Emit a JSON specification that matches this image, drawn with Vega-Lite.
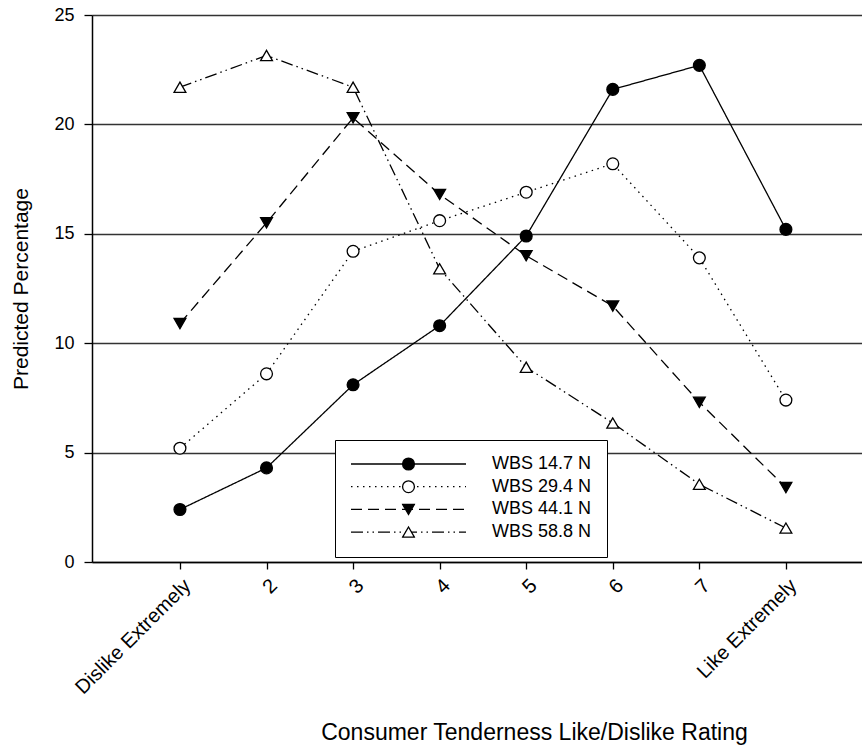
{
  "$schema": "https://vega.github.io/schema/vega-lite/v6.json",
  "width": 770,
  "height": 547,
  "autosize": "none",
  "padding": {"left": 92, "top": 15, "right": 0, "bottom": 188},
  "background": "white",
  "config": {
    "view": {"stroke": null},
    "font": "Liberation Sans",
    "axis": {"labelColor": "black", "titleColor": "black", "domainColor": "black", "tickColor": "black", "titleFontWeight": "normal", "labelFont": "Liberation Sans", "titleFont": "Liberation Sans"},
    "legend": {"labelFont": "Liberation Sans", "labelColor": "black"}
  },
  "data": {
    "values": [
      {"rating": 1, "series": "WBS 14.7 N", "wbs": "14.7", "pct": 2.4},
      {"rating": 2, "series": "WBS 14.7 N", "wbs": "14.7", "pct": 4.3},
      {"rating": 3, "series": "WBS 14.7 N", "wbs": "14.7", "pct": 8.1},
      {"rating": 4, "series": "WBS 14.7 N", "wbs": "14.7", "pct": 10.8},
      {"rating": 5, "series": "WBS 14.7 N", "wbs": "14.7", "pct": 14.9},
      {"rating": 6, "series": "WBS 14.7 N", "wbs": "14.7", "pct": 21.6},
      {"rating": 7, "series": "WBS 14.7 N", "wbs": "14.7", "pct": 22.7},
      {"rating": 8, "series": "WBS 14.7 N", "wbs": "14.7", "pct": 15.2},
      {"rating": 1, "series": "WBS 29.4 N", "wbs": "29.4", "pct": 5.2},
      {"rating": 2, "series": "WBS 29.4 N", "wbs": "29.4", "pct": 8.6},
      {"rating": 3, "series": "WBS 29.4 N", "wbs": "29.4", "pct": 14.2},
      {"rating": 4, "series": "WBS 29.4 N", "wbs": "29.4", "pct": 15.6},
      {"rating": 5, "series": "WBS 29.4 N", "wbs": "29.4", "pct": 16.9},
      {"rating": 6, "series": "WBS 29.4 N", "wbs": "29.4", "pct": 18.2},
      {"rating": 7, "series": "WBS 29.4 N", "wbs": "29.4", "pct": 13.9},
      {"rating": 8, "series": "WBS 29.4 N", "wbs": "29.4", "pct": 7.4},
      {"rating": 1, "series": "WBS 44.1 N", "wbs": "44.1", "pct": 10.9},
      {"rating": 2, "series": "WBS 44.1 N", "wbs": "44.1", "pct": 15.5},
      {"rating": 3, "series": "WBS 44.1 N", "wbs": "44.1", "pct": 20.3},
      {"rating": 4, "series": "WBS 44.1 N", "wbs": "44.1", "pct": 16.8},
      {"rating": 5, "series": "WBS 44.1 N", "wbs": "44.1", "pct": 14.0},
      {"rating": 6, "series": "WBS 44.1 N", "wbs": "44.1", "pct": 11.7},
      {"rating": 7, "series": "WBS 44.1 N", "wbs": "44.1", "pct": 7.3},
      {"rating": 8, "series": "WBS 44.1 N", "wbs": "44.1", "pct": 3.4},
      {"rating": 1, "series": "WBS 58.8 N", "wbs": "58.8", "pct": 21.7},
      {"rating": 2, "series": "WBS 58.8 N", "wbs": "58.8", "pct": 23.15},
      {"rating": 3, "series": "WBS 58.8 N", "wbs": "58.8", "pct": 21.7},
      {"rating": 4, "series": "WBS 58.8 N", "wbs": "58.8", "pct": 13.4},
      {"rating": 5, "series": "WBS 58.8 N", "wbs": "58.8", "pct": 8.9},
      {"rating": 6, "series": "WBS 58.8 N", "wbs": "58.8", "pct": 6.35},
      {"rating": 7, "series": "WBS 58.8 N", "wbs": "58.8", "pct": 3.55},
      {"rating": 8, "series": "WBS 58.8 N", "wbs": "58.8", "pct": 1.55}
    ]
  },
  "encoding": {
    "x": {
      "field": "rating", "type": "quantitative",
      "scale": {"domain": [-0.016, 8.879], "nice": false, "zero": false},
      "axis": {
        "values": [1, 2, 3, 4, 5, 6, 7, 8],
        "labelExpr": "datum.value == 1 ? 'Dislike Extremely' : datum.value == 8 ? 'Like Extremely' : datum.label",
        "labelAngle": -45, "labelFontSize": 20, "labelPadding": 6, "tickSize": 7, "tickWidth": 1.3,
        "domainWidth": 1.5, "grid": false, "labelFlush": false, "labelOverlap": false, "labelLimit": 0,
        "title": "Consumer Tenderness Like/Dislike Rating", "titleFontSize": 23,
        "titleX": 442, "titleY": 177, "titleBaseline": "alphabetic", "titleAnchor": "middle", "titleAlign": "center"
      }
    },
    "y": {
      "field": "pct", "type": "quantitative",
      "scale": {"domain": [0, 25], "nice": false},
      "axis": {
        "values": [0, 5, 10, 15, 20, 25], "labelFontSize": 18, "labelPadding": 10, "tickSize": 8, "tickWidth": 1.3,
        "domainWidth": 1.5, "grid": true, "gridColor": "#333333", "gridWidth": 1.4,
        "title": "Predicted Percentage", "titleFontSize": 21, "titlePadding": 22
      }
    }
  },
  "layer": [
    {
      "mark": {"type": "line", "color": "black", "strokeWidth": 1.3},
      "encoding": {
        "strokeDash": {
          "field": "series", "type": "nominal",
          "scale": {
            "domain": ["WBS 14.7 N", "WBS 29.4 N", "WBS 44.1 N", "WBS 58.8 N"],
            "range": [[1, 0], [1.5, 4.5], [11, 6], [12, 4, 1.5, 4, 1.5, 4]]
          },
          "legend": {
            "orient": "none", "legendX": 243, "legendY": 425, "title": null,
            "symbolType": "stroke", "symbolSize": 13225, "symbolStrokeColor": "black", "symbolStrokeWidth": 1.3,
            "clipHeight": 18, "rowPadding": 4.7, "padding": 15, "labelOffset": 25, "labelFontSize": 18,
            "labelLimit": 0, "strokeColor": "black", "fillColor": "white"
          }
        }
      }
    },
    {
      "mark": {"type": "point", "filled": true, "strokeWidth": 1.3, "size": 140, "opacity": 1},
      "encoding": {
        "fill": {
          "field": "wbs", "type": "nominal",
          "scale": {"domain": ["14.7", "29.4", "44.1", "58.8"], "range": ["black", "white", "black", "white"]},
          "legend": {
            "orient": "none", "legendX": 309.5, "legendY": 440, "title": null,
            "symbolSize": 140, "symbolStrokeWidth": 1.3,
            "clipHeight": 18, "rowPadding": 4.7, "padding": 0, "labelExpr": "''", "labelFontSize": 1, "labelOffset": 0
          }
        },
        "stroke": {
          "field": "wbs", "type": "nominal",
          "scale": {"domain": ["14.7", "29.4", "44.1", "58.8"], "range": ["black", "black", "black", "black"]},
          "legend": {
            "orient": "none", "legendX": 309.5, "legendY": 440, "title": null,
            "symbolSize": 140, "symbolStrokeWidth": 1.3,
            "clipHeight": 18, "rowPadding": 4.7, "padding": 0, "labelExpr": "''", "labelFontSize": 1, "labelOffset": 0
          }
        },
        "shape": {
          "field": "wbs", "type": "nominal",
          "scale": {"domain": ["14.7", "29.4", "44.1", "58.8"], "range": ["circle", "circle", "triangle-down", "triangle-up"]},
          "legend": {
            "orient": "none", "legendX": 309.5, "legendY": 440, "title": null,
            "symbolSize": 140, "symbolStrokeWidth": 1.3,
            "clipHeight": 18, "rowPadding": 4.7, "padding": 0, "labelExpr": "''", "labelFontSize": 1, "labelOffset": 0
          }
        }
      }
    }
  ]
}
